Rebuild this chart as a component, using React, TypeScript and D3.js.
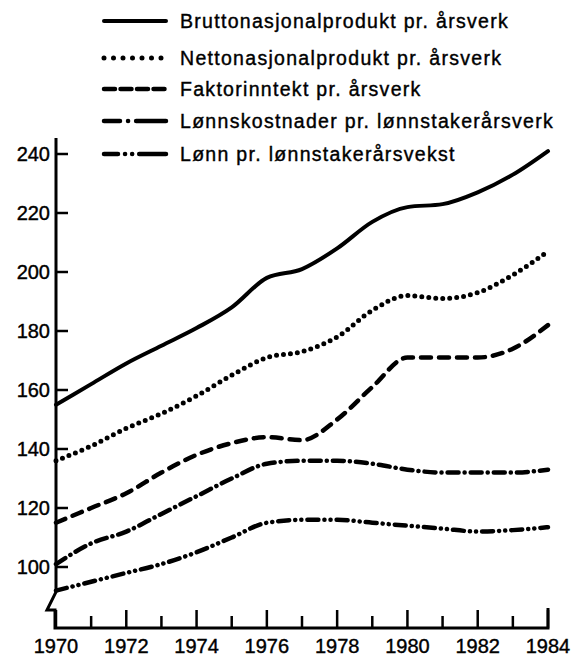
import * as d3 from "d3";

const years = d3.range(1970, 1985);
const yearLabels = [1970, 1972, 1974, 1976, 1978, 1980, 1982, 1984];
const yTicks = [100, 120, 140, 160, 180, 200, 220, 240];

const brutto = [155, 162, 169, 175, 181, 188, 198, 201, 208, 217, 222, 223, 227, 233, 241];
const netto = [136, 141, 147, 152, 158, 165, 171, 173, 178, 187, 192, 191, 193, 199, 207];
const faktor = [115, 120, 125, 132, 138, 142, 144, 143, 150, 161, 171, 171, 171, 174, 182];
const lonnskost = [101, 108, 112, 118, 124, 130, 135, 136, 136, 135, 133, 132, 132, 132, 133];
const lonn = [92, 95, 98, 101, 105, 110, 115, 116, 116, 115, 114, 113, 112, 112.5, 113.5];

const seriesNames = [
  "Bruttonasjonalprodukt pr. årsverk",
  "Nettonasjonalprodukt pr. årsverk",
  "Faktorinntekt pr. årsverk",
  "Lønnskostnader pr. lønnstakerårsverk",
  "Lønn pr. lønnstakerårsvekst",
];

// line styles: chart dash pattern, legend dash pattern
const styles = [
  { dash: null, legend: null, width: 4 },
  { dash: "0 7", legend: "0 9.5", width: 5 },
  { dash: "10 8", legend: "11 5.5", width: 4.5 },
  { dash: "11 6 0.1 6", legend: "16 8 0.1 8 30", width: 4.5 },
  { dash: "11 6 0.1 6 0.1 6", legend: "14 7 0.1 7 0.1 7 30", width: 4.5 },
];

const font = "'Liberation Sans', Arial, Helvetica, sans-serif";

export default function App() {
  const width = 585;
  const height = 659;
  const x = d3.scaleLinear([1970, 1984], [56, 548]);
  const y = d3.scaleLinear([100, 240], [567, 154]);
  const axisX = 56;
  const axisY = 628;

  const line = d3
    .line<number>()
    .x((d, i) => x(years[i]))
    .y((d) => y(d))
    .curve(d3.curveMonotoneX);

  const data = [brutto, netto, faktor, lonnskost, lonn];
  const legendY = [21, 58, 89, 121, 154];

  return (
    <svg
      width={width}
      height={height}
      style={{ position: "absolute", left: 0, top: 0, background: "#fff" }}
      fontFamily={font}
    >
      <rect width={width} height={height} fill="#fff" />
      {/* axes, with the break at the bottom of the y axis */}
      <path
        d={`M${axisX},138 V592 L47,610 H${axisX - 1} V${axisY} H${x(1984)} V${axisY - 20}`}
        fill="none"
        stroke="#000"
        strokeWidth={3}
      />
      {yTicks.map((t) => (
        <g key={t}>
          <line x1={axisX} x2={axisX + 12} y1={y(t)} y2={y(t)} stroke="#000" strokeWidth={2.5} />
          <text
            x={50}
            y={y(t)}
            dy="0.36em"
            textAnchor="end"
            fontSize={20}
            fill="#000"
            stroke="#000"
            strokeWidth={0.4}
          >
            {t}
          </text>
        </g>
      ))}
      {years.map((yr) => (
        <line
          key={yr}
          x1={x(yr)}
          x2={x(yr)}
          y1={axisY}
          y2={axisY - (yr % 2 === 0 ? 18 : 12)}
          stroke="#000"
          strokeWidth={2.5}
        />
      ))}
      {yearLabels.map((yr) => (
        <text
          key={yr}
          x={x(yr)}
          y={653}
          textAnchor="middle"
          fontSize={20}
          fill="#000"
          stroke="#000"
          strokeWidth={0.4}
        >
          {yr}
        </text>
      ))}
      {data.map((d, i) => (
        <path
          key={i}
          d={line(d) || ""}
          fill="none"
          stroke="#000"
          strokeWidth={styles[i].width}
          strokeDasharray={styles[i].dash || undefined}
          strokeLinecap="round"
          strokeLinejoin="round"
        />
      ))}
      {seriesNames.map((name, i) => (
        <g key={name}>
          <line
            x1={104}
            x2={166}
            y1={legendY[i]}
            y2={legendY[i]}
            stroke="#000"
            strokeWidth={styles[i].width}
            strokeDasharray={styles[i].legend || undefined}
            strokeLinecap="round"
          />
          <text
            x={180}
            y={legendY[i]}
            dy="0.36em"
            fontSize={19.5}
            letterSpacing={1.3}
            fill="#000"
            stroke="#000"
            strokeWidth={0.4}
          >
            {name}
          </text>
        </g>
      ))}
    </svg>
  );
}
